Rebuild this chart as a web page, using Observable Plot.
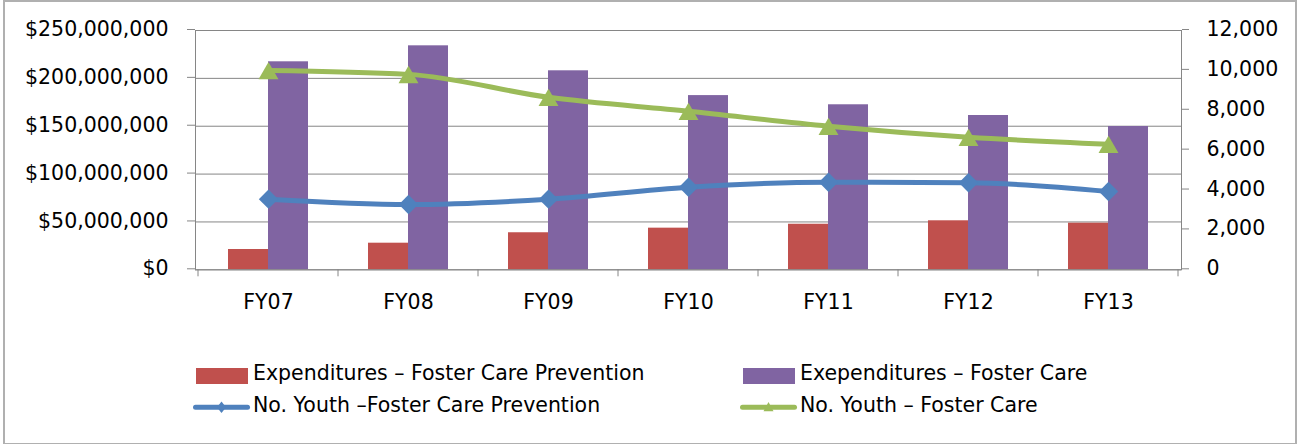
<!DOCTYPE html>
<html>
<head>
<meta charset="utf-8">
<script src="https://cdn.jsdelivr.net/npm/d3@7"></script>
<script src="https://cdn.jsdelivr.net/npm/@observablehq/plot@0.6"></script>
<style>
  html, body { margin: 0; padding: 0; background: #fff; }
  #wrap { position: relative; width: 1297px; height: 444px; overflow: hidden; font-family: "DejaVu Sans", sans-serif; }
  #chart { position: absolute; left: 0; top: 0; }
  #legend { position: absolute; left: 193px; top: 362.1px; display: grid; grid-template-columns: 547px auto; grid-auto-rows: 31.6px; }
  .item { position: relative; height: 23px; line-height: 23px; padding-left: 60px; font-size: 20.5px; white-space: nowrap; color: #000; }
  .item .sw { position: absolute; left: 2.5px; top: 5.6px; width: 52px; height: 16.6px; }
  .item svg { position: absolute; left: 0; top: 0; }
  #border { position: absolute; left: 3px; top: 0px; width: 1290px; height: 441px; border: 2px solid #b0b0b0; pointer-events: none; }
</style>
</head>
<body>
<div id="wrap">
  <div id="chart"></div>
  <div id="legend"></div>
  <div id="border"></div>
</div>
<script>
// ---- data ----
const years = ["FY07", "FY08", "FY09", "FY10", "FY11", "FY12", "FY13"];
const expPrevention = [21.2e6, 27.8e6, 38.7e6, 43.5e6, 47.6e6, 51.2e6, 48.7e6];
const expFosterCare = [217.3e6, 234.0e6, 207.9e6, 182.0e6, 172.4e6, 161.2e6, 149.7e6];
const youthPrevention = [3540, 3275, 3540, 4140, 4390, 4365, 3925];
const youthFosterCare = [10000, 9800, 8650, 7950, 7200, 6650, 6300];
const leftTicks = [0, 50e6, 100e6, 150e6, 200e6, 250e6];
const rightTicks = [0, 2000, 4000, 6000, 8000, 10000, 12000];
const seriesLabels = [
  "Expenditures – Foster Care Prevention",
  "Exependitures – Foster Care",
  "No. Youth –Foster Care Prevention",
  "No. Youth – Foster Care"
];

// ---- styles ----
const RED = "#C0504D", PURPLE = "#8064A2", BLUE = "#4F81BD", GREEN = "#9BBB59", AXIS = "#868686";

const rows = years.map((fy, i) => ({
  fy,
  expPrev: expPrevention[i],
  expFC: expFosterCare[i],
  youthPrev: youthPrevention[i],
  youthFC: youthFosterCare[i]
}));

// right axis mapped onto left axis scale
const leftMax = d3.max(leftTicks), rightMax = d3.max(rightTicks);
const k = leftMax / rightMax;
const fmt = d3.format(",");

function boundaryTicks(index, scales, values, dimensions) {
  const x = scales.x;
  const bw = typeof x.bandwidth === "function" ? x.bandwidth() : (x.bandwidth || 0);
  const step = x(years[1]) - x(years[0]);
  const yb = dimensions.height - dimensions.marginBottom;
  const centers = years.map(c => x(c) + bw / 2);
  const bounds = centers.map(c => c - step / 2).concat([centers[centers.length - 1] + step / 2]);
  const g = d3.create("svg:g").attr("stroke", AXIS).attr("stroke-width", 1);
  g.selectAll("line").data(bounds).join("line")
    .attr("x1", d => d).attr("x2", d => d)
    .attr("y1", yb).attr("y2", yb + 7);
  return g.node();
}

const chart = Plot.plot({
  width: 1297,
  height: 340,
  marginLeft: 195,
  marginRight: 116,
  marginTop: 30,
  marginBottom: 70.7,
  style: { fontFamily: "'DejaVu Sans', sans-serif", fontSize: "20.5px", color: "#000", background: "transparent" },
  x: { type: "band", domain: years, paddingInner: 0.432, paddingOuter: 0.216, axis: null },
  y: { domain: [0, leftMax], axis: null },
  marks: [
    Plot.gridY(leftTicks, { stroke: AXIS, strokeOpacity: 1, strokeWidth: 1 }),
    Plot.barY(rows, { x: "fy", y: "expPrev", fill: RED, insetRight: 40 }),
    Plot.barY(rows, { x: "fy", y: "expFC", fill: PURPLE, insetLeft: 40 }),
    Plot.frame({ stroke: AXIS }),
    Plot.axisY(leftTicks, { anchor: "left", tickSize: 8, tickPadding: 19, stroke: AXIS, fill: "#000", dy: -1, tickFormat: d => "$" + fmt(d), label: null }),
    Plot.axisY(rightTicks.map(v => v * k), { anchor: "right", tickSize: 7, tickPadding: 18, stroke: AXIS, fill: "#000", dy: -1, tickFormat: d => fmt(Math.round(d / k)), label: null }),
    Plot.axisX(years, { anchor: "bottom", tickSize: 0, tickPadding: 25, fill: "#000", label: null }),
    boundaryTicks,
    Plot.line(rows, { x: "fy", y: d => d.youthPrev * k, stroke: BLUE, strokeWidth: 5, curve: "monotone-x" }),
    Plot.dot(rows, { x: "fy", y: d => d.youthPrev * k, symbol: "diamond2", fill: BLUE, stroke: null, r: 8.7 }),
    Plot.line(rows, { x: "fy", y: d => d.youthFC * k, stroke: GREEN, strokeWidth: 5, curve: "monotone-x" }),
    Plot.dot(rows, { x: "fy", y: d => d.youthFC * k, symbol: "triangle", fill: GREEN, stroke: null, r: 7.4, dy: 3 })
  ]
});
document.getElementById("chart").appendChild(chart);

// ---- legend ----
const legendDefs = [
  { label: seriesLabels[0], kind: "bar", color: RED },
  { label: seriesLabels[1], kind: "bar", color: PURPLE },
  { label: seriesLabels[2], kind: "diamond", color: BLUE },
  { label: seriesLabels[3], kind: "triangle", color: GREEN }
];
const legend = d3.select("#legend");
legendDefs.forEach(d => {
  const item = legend.append("div").attr("class", "item");
  if (d.kind === "bar") {
    item.append("div").attr("class", "sw").style("background", d.color);
  } else {
    const s = item.append("svg").attr("width", 60).attr("height", 24);
    s.append("line").attr("x1", 2.5).attr("x2", 54.5).attr("y1", 13.3).attr("y2", 13.3)
      .attr("stroke", d.color).attr("stroke-width", 5).attr("stroke-linecap", "round");
    if (d.kind === "diamond") {
      s.append("path").attr("d", "M28.5,7.5L33,13.3L28.5,19.1L24,13.3Z").attr("fill", d.color);
    } else {
      s.append("path").attr("d", "M28.5,8L33.5,17.3L23.5,17.3Z").attr("fill", d.color);
    }
  }
  item.append("span").text(d.label);
});
</script>
</body>
</html>
